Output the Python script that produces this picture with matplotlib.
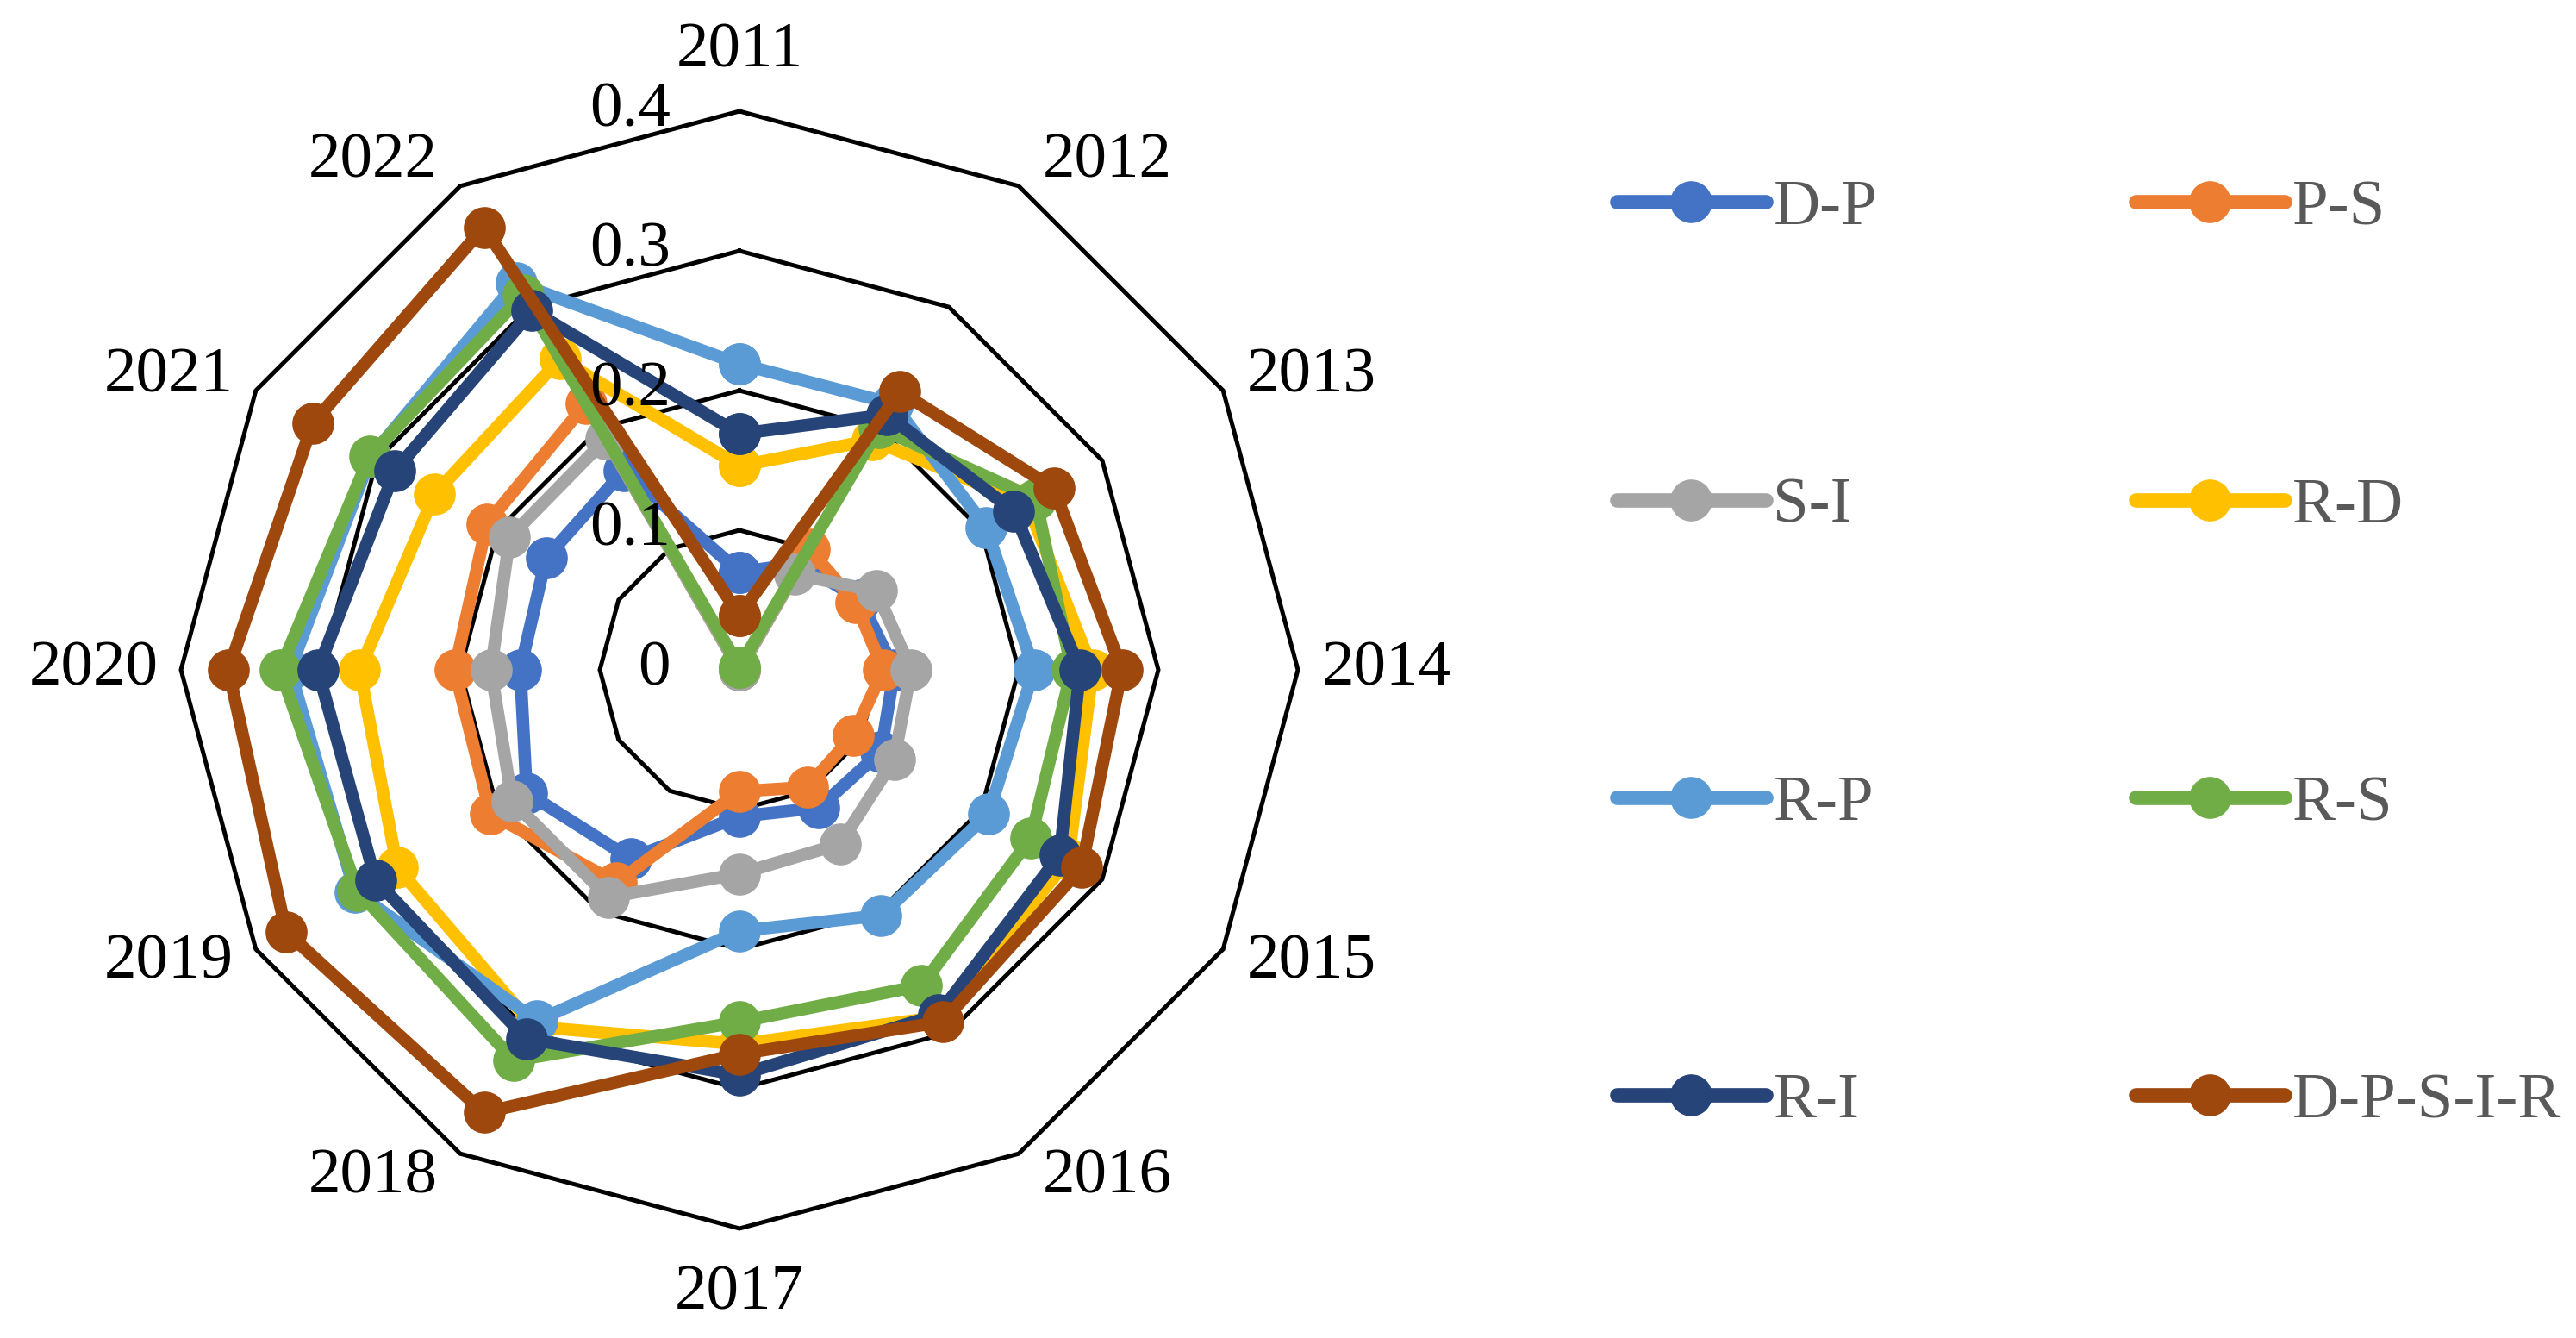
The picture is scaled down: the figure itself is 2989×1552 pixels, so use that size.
import numpy as np
import matplotlib
matplotlib.use("Agg")
import matplotlib.pyplot as plt
from matplotlib.lines import Line2D
from matplotlib.transforms import offset_copy

plt.rcParams['font.family'] = ['Liberation Serif', 'DejaVu Serif']

years = ['2011', '2012', '2013', '2014', '2015', '2016',
         '2017', '2018', '2019', '2020', '2021', '2022']

series_names = ['D-P', 'P-S', 'S-I', 'R-D', 'R-P', 'R-S', 'R-I', 'D-P-S-I-R']

d_p = [0.070, 0.088, 0.100, 0.111, 0.117, 0.114, 0.105, 0.156, 0.176, 0.157, 0.160, 0.165]
p_s = [0.000, 0.100, 0.096, 0.103, 0.094, 0.097, 0.087, 0.176, 0.206, 0.204, 0.209, 0.220]
s_i = [0.000, 0.079, 0.113, 0.123, 0.128, 0.144, 0.146, 0.188, 0.188, 0.178, 0.190, 0.191]
r_d = [0.146, 0.190, 0.238, 0.253, 0.272, 0.287, 0.268, 0.295, 0.283, 0.272, 0.252, 0.257]
r_p = [0.219, 0.220, 0.204, 0.211, 0.206, 0.203, 0.187, 0.290, 0.318, 0.322, 0.305, 0.320]
r_s = [0.002, 0.200, 0.245, 0.238, 0.241, 0.261, 0.252, 0.323, 0.316, 0.329, 0.306, 0.310]
r_i = [0.169, 0.211, 0.227, 0.244, 0.265, 0.285, 0.290, 0.305, 0.301, 0.302, 0.285, 0.297]
dpsir = [0.039, 0.230, 0.260, 0.274, 0.283, 0.291, 0.275, 0.366, 0.375, 0.366, 0.353, 0.366]

all_series = [d_p, p_s, s_i, r_d, r_p, r_s, r_i, dpsir]
colors = ['#4472C4', '#ED7D31', '#A5A5A5', '#FFC000', '#5B9BD5', '#70AD47', '#264478', '#9E480E']

ring_values = [0.1, 0.2, 0.3, 0.4]
ring_labels = ['0', '0.1', '0.2', '0.3', '0.4']
ring_label_values = [0.0, 0.1, 0.2, 0.3, 0.4]
rmax = 0.4

W, H = 2989, 1552
fig = plt.figure(figsize=(W / 100, H / 100), dpi=100)

cx, cy, R = 858, 777, 648
ax = fig.add_axes([(cx - R) / W, (H - cy - R) / H, 2 * R / W, 2 * R / H], projection='polar')
ax.set_theta_zero_location('N')
ax.set_theta_direction(-1)
ax.set_ylim(0, rmax)
ax.grid(False)
ax.set_xticks([])
ax.set_yticks([])
ax.spines['polar'].set_visible(False)
ax.patch.set_alpha(0)

n = len(years)
theta = np.arange(n) * 2 * np.pi / n
theta_c = np.append(theta, theta[0])

# grid polygons
for rv in ring_values:
    ax.plot(theta_c, [rv] * (n + 1), color='black', lw=3.6, zorder=1, clip_on=False,
            solid_joinstyle='miter')

# series
lw = 10.5
ms = 34
for name, vals, col in zip(series_names, all_series, colors):
    v = list(vals) + [vals[0]]
    ax.plot(theta_c, v, color=col, lw=lw, marker='o', ms=ms, mfc=col, mec=col,
            solid_joinstyle='round', solid_capstyle='round', zorder=3, clip_on=False)

fs = 54
# ring value labels
for lab, rv in zip(ring_labels, ring_label_values):
    tr = offset_copy(ax.transData, fig=fig, x=-80, y=0, units='dots')
    ax.text(0, rv, lab, transform=tr, ha='right', va='center', fontsize=fs,
            color='black', zorder=5, clip_on=False)

# category labels
for th, yr in zip(theta, years):
    s, c = np.sin(th), np.cos(th)
    if abs(s) < 0.01:
        ha = 'center'
        if c > 0:
            va, dx, dy = 'bottom', 0, 36
        else:
            va, dx, dy = 'top', 0, -42
    else:
        va = 'center'
        ha = 'left' if s > 0 else 'right'
        dx = 28 if s > 0 else -26
        dy = 32 * c
    tr = offset_copy(ax.transData, fig=fig, x=dx, y=dy, units='dots')
    ax.text(th, rmax, yr, transform=tr, ha=ha, va=va, fontsize=fs, color='black',
            clip_on=False)

# legend (two columns)
handles = [Line2D([0], [0], color=col, lw=12, marker='o', ms=34, mfc=col, mec=col,
                  solid_capstyle='round') for col in colors]
common = dict(frameon=False, fontsize=fs, handlelength=2.3, handletextpad=0.12,
              labelspacing=3.69, borderpad=0, borderaxespad=0, labelcolor='#595959',
              loc='upper left')
leg1 = fig.legend(handles[0::2], series_names[0::2], bbox_to_anchor=(1876 / W, 1 - 208 / H), **common)
leg2 = fig.legend(handles[1::2], series_names[1::2], bbox_to_anchor=(2478 / W, 1 - 208 / H), **common)

fig.savefig('out.png', dpi=100, facecolor='white')
